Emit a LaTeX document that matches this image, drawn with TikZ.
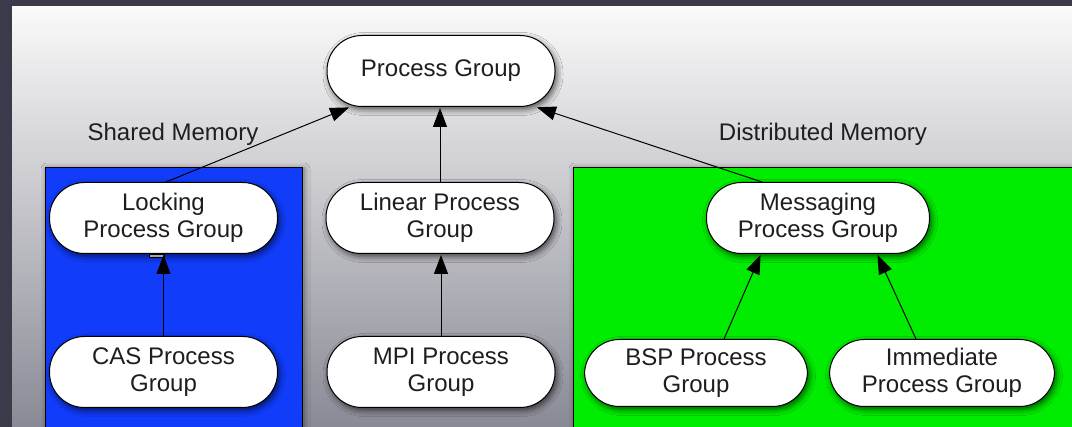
\documentclass[tikz,border=0pt]{standalone}
\usepackage{fontspec}
\setmainfont{Liberation Sans}
\usetikzlibrary{shadows.blur,arrows.meta}
\definecolor{frame}{RGB}{58,58,74}
\definecolor{bgtop}{RGB}{250,250,250}
\definecolor{bgbot}{RGB}{138,138,150}
\definecolor{sblue}{RGB}{16,60,250}
\definecolor{dgreen}{RGB}{0,236,0}
\definecolor{txt}{RGB}{30,30,30}
\tikzset{
  pg/.style={draw=black, line width=1pt, fill=white, rounded corners=35pt,
    minimum width=228pt, minimum height=71pt, align=center, text=txt,
    font=\fontsize{24}{27}\selectfont,
    blur shadow={shadow xshift=2pt, shadow yshift=-3pt, shadow blur radius=6pt, shadow opacity=65}},
  region/.style={draw=black, line width=0.8pt,
    blur shadow={shadow xshift=2pt, shadow yshift=-2pt, shadow blur radius=6pt, shadow opacity=50}},
  lbl/.style={text=txt, font=\fontsize{24}{27}\selectfont},
  arr/.style={-{Triangle[length=19pt,width=14pt]}, line width=1pt, black, shorten >=1pt}
}
\begin{document}
\begin{tikzpicture}[x=1pt,y=-1pt]
\useasboundingbox (0,0) rectangle (1072,427);
\fill[frame] (0,0) rectangle (1072,427);
\shade[top color=bgtop, bottom color=bgbot] (12,7) rectangle (1072,427);
% regions
\path[region, fill=sblue] (45,167) rectangle (302,430);
\path[region, fill=dgreen] (573,167) rectangle (1075,430);
% labels
\node[lbl] (shm) at (173,134) {Shared Memory};
\node[lbl] (dsm) at (823,134) {Distributed Memory};
% nodes
\node[pg] (root) at (441,71) {Process Group};
\node[pg] (lock) at (163.5,218) {Locking\\Process Group};
\node[pg] (cas) at (163.5,372) {CAS Process\\Group};
\node[pg] (lin) at (440,218) {Linear Process\\Group};
\node[pg] (mpi) at (441,372) {MPI Process\\Group};
\node[pg, minimum width=223pt] (msg) at (818,218) {Messaging\\Process Group};
\node[pg, minimum width=223pt, minimum height=67pt] (bsp) at (696,373) {BSP Process\\Group};
\node[pg, minimum width=225pt, minimum height=67pt] (imm) at (942,373) {Immediate\\Process Group};
% small glitch rectangle under Locking
\coordinate (g1) at (149,254);
\coordinate (g2) at (164,257.5);
\draw[fill=gray!70, line width=0.5pt] (g1) rectangle (g2);
% connectors
\draw[arr] (lock.north -| 166,0) -- (root.south -| 350,0);
\draw[arr] (lin.north) -- (root.south -| lin.north);
\draw[arr] (msg.north -| 762,0) -- (root.south -| 536,0);
\draw[arr] (cas.north) -- (lock.south);
\draw[arr] (mpi.north) -- (lin.south -| mpi.north);
\draw[arr] (bsp.north -| 724,0) -- (msg.south -| 761,0);
\draw[arr] (imm.north -| 916,0) -- (msg.south -| 877,0);
\end{tikzpicture}
\end{document}
